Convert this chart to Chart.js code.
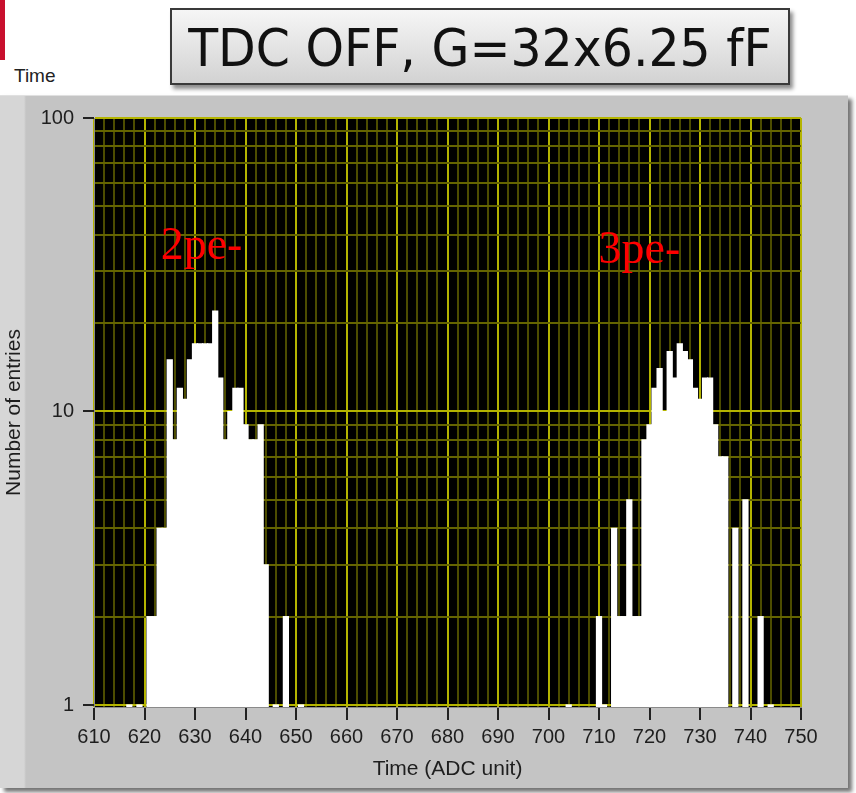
<!DOCTYPE html>
<html>
<head>
<meta charset="utf-8">
<script src="https://cdn.jsdelivr.net/npm/chart.js@4.4.1/dist/chart.umd.min.js"></script>
<style>
  html, body { margin: 0; padding: 0; background: #ffffff; }
  body { width: 856px; height: 793px; position: relative; overflow: hidden; }
  .redbar { position: absolute; left: 0; top: 0; width: 5px; height: 60px; background: #c8102e; }
  .graphname { position: absolute; left: 14px; top: 65px; font: 19px "Liberation Sans", Arial, sans-serif; color: #222; }
  .headline {
    position: absolute; left: 170px; top: 8px; width: 620px; height: 77px; box-sizing: border-box;
    border: 2px solid #3a3a3a; background: linear-gradient(#f6f6f6, #d2d2d2);
    box-shadow: 3px 4px 4px rgba(0,0,0,0.45);
    display: flex; align-items: center; justify-content: center; white-space: nowrap;
  }
  .headline span {
    display: inline-block; font: 51px "DejaVu Sans", sans-serif; color: #111;
    transform: scaleX(0.96); transform-origin: center; margin-top: 3px;
  }
  .panel {
    position: absolute; left: 0; top: 95px; width: 848px; height: 693px;
    background: linear-gradient(to right, #d6d6d6 0px, #d6d6d6 24px, #c4c4c4 26px, #c4c4c4 100%);
    box-shadow: 4px 4px 4px rgba(0,0,0,0.55);
    border-top: 1px solid #e0e0e0; box-sizing: border-box;
  }
  .panel canvas { position: absolute; left: 0; top: 0; }
</style>
</head>
<body>
<div class="redbar"></div>
<div class="graphname">Time</div>
<div class="headline"><span>TDC OFF, G=32x6.25 fF</span></div>
<div class="panel"><canvas id="hist" width="848" height="693"></canvas></div>
<script>
// Histogram bins (ADC time units) and the number of entries in each bin
const timeBins = [
  617, 619, 621, 622, 623, 624, 625, 626, 627, 628, 629, 630, 631, 632, 633, 634,
  635, 636, 637, 638, 639, 640, 641, 642, 643, 644, 646, 648, 651,
  704, 710, 711, 713, 714, 715, 716, 717, 718, 719, 720, 721, 722, 723, 724, 725,
  726, 727, 728, 729, 730, 731, 732, 733, 734, 735, 737, 739, 742, 744
];
const entries = [
  1, 1, 2, 2, 4, 4, 15, 8, 12, 11, 15, 17, 17, 17, 17, 22,
  13, 8, 10, 12, 12, 9, 8, 8, 9, 3, 1, 2, 1,
  1, 2, 1, 4, 2, 2, 5, 2, 2, 8, 9, 12, 14, 10, 16, 13,
  17, 16, 15, 12, 11, 13, 13, 9, 7, 7, 4, 5, 2, 1
];

// Axis ticks
const xGridStep = 2;
const xTickLabels = [610, 620, 630, 640, 650, 660, 670, 680, 690, 700, 710, 720, 730, 740, 750];
const yTickLabels = [1, 10, 100];
const yMinorFactors = [2, 3, 4, 5, 6, 7, 8, 9];
const yFloor = 0.9844;

// Peak annotations
const peakNames = ['2pe-', '3pe-'];
const peakNameTimes = [623.2, 709.9];
const peakNameEntries = [33.2, 32.0];

const xFirst = xTickLabels[0];
const xLast = xTickLabels[xTickLabels.length - 1];
const xGridValues = [];
for (let v = xFirst; v <= xLast; v += xGridStep) xGridValues.push(v);
const yGridValues = [];
yTickLabels.forEach((d, i) => {
  yGridValues.push(d);
  if (i < yTickLabels.length - 1) yMinorFactors.forEach(f => yGridValues.push(d * f));
});

const MAJOR = '#b4b400';
const X_MINOR = '#4c4c00';
const Y_MINOR = '#646400';
const AXIS_FONT = '"Liberation Sans", Arial, sans-serif';

const isMajorX = v => xTickLabels.includes(v);
const isMajorY = v => yTickLabels.some(t => Math.abs(t - v) < 1e-9);

const plotBackground = {
  id: 'plotBackground',
  beforeDraw(chart) {
    const { ctx, chartArea: a } = chart;
    ctx.save();
    ctx.fillStyle = '#000000';
    ctx.fillRect(a.left, a.top, a.right - a.left, a.bottom - a.top);
    ctx.restore();
  }
};

const peakNameLabels = {
  id: 'peakNameLabels',
  afterDatasetsDraw(chart) {
    const { ctx, scales } = chart;
    ctx.save();
    ctx.fillStyle = '#ff0000';
    ctx.font = '46px "Liberation Serif", "DejaVu Serif", serif';
    ctx.textAlign = 'left';
    ctx.textBaseline = 'alphabetic';
    peakNames.forEach((name, i) => {
      ctx.fillText(name, scales.x.getPixelForValue(peakNameTimes[i]), scales.y.getPixelForValue(peakNameEntries[i]));
    });
    ctx.restore();
  }
};

new Chart(document.getElementById('hist'), {
  type: 'bar',
  data: {
    datasets: [{
      data: timeBins.map((t, i) => ({ x: t, y: entries[i] })),
      backgroundColor: '#ffffff',
      borderWidth: 0,
      inflateAmount: 0.6,
      barPercentage: 1.0,
      categoryPercentage: 1.0
    }]
  },
  options: {
    responsive: false,
    animation: false,
    devicePixelRatio: 1,
    layout: { padding: { top: 22, right: 47, bottom: 0, left: 0 } },
    plugins: { legend: { display: false }, tooltip: { enabled: false } },
    scales: {
      x: {
        type: 'linear',
        min: xFirst,
        max: xLast,
        offset: false,
        afterBuildTicks: s => { s.ticks = xGridValues.map(v => ({ value: v })); },
        afterFit: s => { s.height = 82; },
        ticks: {
          autoSkip: false,
          maxRotation: 0,
          padding: 5,
          color: '#1e1e1e',
          font: { family: AXIS_FONT, size: 20 },
          callback: v => (isMajorX(v) ? String(v) : '')
        },
        grid: {
          offset: false,
          color: c => (isMajorX(c.tick.value) ? MAJOR : X_MINOR),
          lineWidth: 2,
          tickLength: 13,
          tickWidth: 2,
          tickColor: c => (isMajorX(c.tick.value) ? '#222222' : 'rgba(0,0,0,0)')
        },
        border: { display: true, color: '#8a8a8a', width: 1 },
        title: {
          display: true,
          text: 'Time (ADC unit)',
          color: '#1e1e1e',
          font: { family: AXIS_FONT, size: 21 },
          padding: { top: 0, bottom: 7 }
        }
      },
      y: {
        type: 'logarithmic',
        min: yFloor,
        max: yTickLabels[yTickLabels.length - 1],
        beginAtZero: false,
        afterBuildTicks: s => { s.ticks = yGridValues.map(v => ({ value: v })); },
        afterFit: s => { s.width = 94; },
        ticks: {
          autoSkip: false,
          padding: 9,
          color: '#1e1e1e',
          font: { family: AXIS_FONT, size: 20 },
          callback: v => (isMajorY(v) ? String(v) : '')
        },
        grid: {
          color: c => (isMajorY(c.tick.value) ? MAJOR : Y_MINOR),
          lineWidth: 2,
          tickLength: 11,
          tickWidth: 2,
          tickColor: c => (isMajorY(c.tick.value) ? '#222222' : 'rgba(0,0,0,0)')
        },
        border: { display: true, color: '#8a8a8a', width: 1 },
        title: {
          display: true,
          text: 'Number of entries',
          color: '#1e1e1e',
          font: { family: AXIS_FONT, size: 21 },
          padding: { top: 2, bottom: 0 }
        }
      }
    }
  },
  plugins: [plotBackground, peakNameLabels]
});
</script>
</body>
</html>
